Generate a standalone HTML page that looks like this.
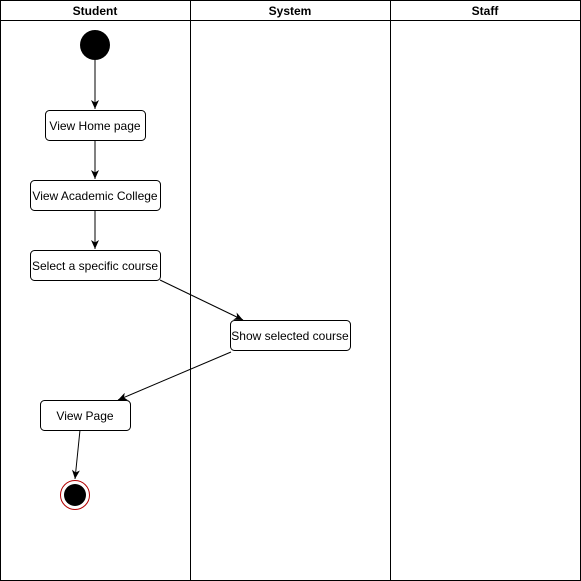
<!DOCTYPE html>
<html><head><style>body{margin:0;background:#fff}svg{display:block}</style></head><body>
<svg width="581" height="581" viewBox="0 0 581 581" font-family="Liberation Sans, sans-serif" font-size="12">
<defs><marker id="a" markerWidth="10" markerHeight="10" refX="9" refY="5" orient="auto" markerUnits="userSpaceOnUse"><path d="M0,1 L9,5 L0,9 L2.5,5 Z" fill="#000"/></marker></defs>
<rect x="0.5" y="0.5" width="580" height="580" fill="#fff" stroke="#000"/>
<line x1="0" y1="20.5" x2="581" y2="20.5" stroke="#000"/>
<line x1="190.5" y1="0" x2="190.5" y2="581" stroke="#000"/>
<line x1="390.5" y1="0" x2="390.5" y2="581" stroke="#000"/>
<g font-weight="bold" text-anchor="middle"><text x="95" y="15">Student</text><text x="290" y="15">System</text><text x="485" y="15">Staff</text></g>
<circle cx="95" cy="45" r="15" fill="#000"/>
<g stroke="#000" fill="none" marker-end="url(#a)">
<line x1="95" y1="60" x2="95" y2="109"/>
<line x1="95" y1="140" x2="95" y2="179"/>
<line x1="95" y1="210" x2="95" y2="249"/>
<line x1="160" y1="280" x2="243" y2="320"/>
<line x1="231" y1="352" x2="118" y2="400"/>
<line x1="80" y1="430" x2="75" y2="479"/>
</g>
<g stroke="#000" fill="#fff">
<rect x="45.5" y="110.5" width="100" height="30" rx="4"/>
<rect x="30.5" y="180.5" width="130" height="30" rx="4"/>
<rect x="30.5" y="250.5" width="130" height="30" rx="4"/>
<rect x="230.5" y="320.5" width="120" height="30" rx="4"/>
<rect x="40.5" y="400.5" width="90" height="30" rx="4"/>
</g>
<g text-anchor="middle" fill="#000">
<text x="95" y="130">View Home page</text>
<text x="95" y="200">View Academic College</text>
<text x="95" y="270">Select a specific course</text>
<text x="290" y="340">Show selected course</text>
<text x="85" y="420">View Page</text>
</g>
<circle cx="75" cy="495" r="14.5" fill="#fff" stroke="#b20000"/>
<circle cx="75" cy="495" r="11" fill="#000"/>
</svg>
</body></html>
